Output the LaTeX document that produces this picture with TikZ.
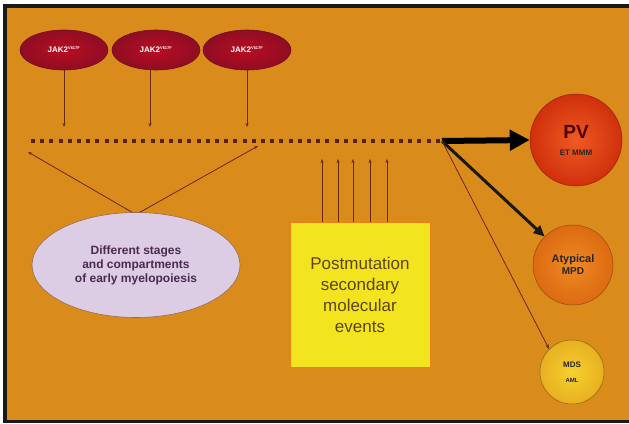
\documentclass[tikz,border=0pt]{standalone}
\usepackage{fontspec}
\setmainfont{Liberation Sans}
\usetikzlibrary{arrows.meta,shapes.geometric}
\definecolor{bgorange}{HTML}{D98B1C}
\definecolor{brownline}{HTML}{6A2A10}
\definecolor{jakred}{HTML}{A8102A}
\definecolor{lav}{HTML}{DCCCE4}
\definecolor{lavtext}{HTML}{4A2A50}
\definecolor{boxyellow}{HTML}{F2E41E}
\definecolor{boxtext}{HTML}{5E4418}
\definecolor{pvin}{HTML}{EE5A22}
\definecolor{pvout}{HTML}{D0300C}
\definecolor{atin}{HTML}{EE8A22}
\definecolor{atout}{HTML}{DC6A12}
\definecolor{mdin}{HTML}{F6D030}
\definecolor{mdout}{HTML}{E8B020}
\begin{document}
\begin{tikzpicture}[x=1pt,y=-1pt,
  jak/.style={ellipse,minimum width=88pt,minimum height=40pt,inner sep=0pt,
    shading=radial,inner color=jakred!80!red,outer color=jakred!85!black,
    draw=jakred!70!black,line width=0.6pt,text=white,font=\fontsize{8}{9}\selectfont\bfseries},
  thinarrow/.style={draw=brownline,line width=0.8pt,-{Stealth[length=4pt,width=3pt]}},
  sphere/.style={circle,inner sep=0pt,align=center,font=\bfseries,text=black!85,line width=0.5pt},
]
\useasboundingbox (0,0) rectangle (629,423);
\fill[white] (0,0) rectangle (629,423);
\fill[black!90] (3,4) rectangle (629,423);
\fill[bgorange] (7,8) rectangle (629,420);

% JAK2 ellipses
\node[jak] (jak1) at (64,50) {JAK2\textsuperscript{\fontsize{4}{4}\selectfont V617F}};
\node[jak] (jak2) at (156,50) {JAK2\textsuperscript{\fontsize{4}{4}\selectfont V617F}};
\node[jak] (jak3) at (247,50) {JAK2\textsuperscript{\fontsize{4}{4}\selectfont V617F}};

% dotted line
\coordinate (dl) at (31,141);
\coordinate (dr) at (442,141);
\draw[brownline!80!black,line width=4pt,dash pattern=on 4pt off 5.2pt] (dl) -- (dr);

\coordinate (t1) at (64,127);
\coordinate (t2) at (150,127);
\coordinate (t3) at (247,127);
\draw[thinarrow] (jak1.south) -- (t1);
\draw[thinarrow] (150,70) -- (t2);
\draw[thinarrow] (jak3.south) -- (t3);

% outcome spheres
\node[sphere,minimum size=92pt,shading=radial,inner color=pvin,outer color=pvout,
  draw=pvout!70!black] (pv) at (576,140)
  {{\fontsize{19}{20}\selectfont\color{red!30!black}PV}\\[5pt]{\fontsize{8}{9}\selectfont ET MMM}};
\node[sphere,minimum size=80pt,shading=radial,inner color=atin,outer color=atout,
  draw=atout!70!black] (atyp) at (573,265)
  {\fontsize{11}{13}\selectfont Atypical\\MPD};
\node[sphere,minimum size=64pt,shading=radial,inner color=mdin,outer color=mdout,
  draw=mdout!60!black] (mds) at (572,372)
  {{\fontsize{8}{9}\selectfont MDS}\\[3pt]{\fontsize{6}{7}\selectfont AML}};

\draw[black,line width=6pt,-{Triangle[length=20pt,width=20pt]}] (dr) -- (pv.west);
\draw[black!90,line width=3pt,-{Triangle[length=11pt,width=10pt]}] (dr) -- (atyp.north west);
\draw[brownline,line width=0.8pt,-{Stealth[length=5pt,width=3.5pt]}] (dr) -- (mds.north west);

% early myelopoiesis ellipse
\node[ellipse,minimum width=208pt,minimum height=105pt,inner sep=0pt,fill=lav,
  draw=brownline!70,line width=0.6pt,align=center,text=lavtext,
  font=\fontsize{12}{14}\selectfont\bfseries] (stages) at (136,265)
  {Different stages\\and compartments\\of early myelopoiesis};
\coordinate (el) at (28,152);
\coordinate (er) at (258,146);
\draw[thinarrow] (stages.north) ++(-4,0) -- (el);
\draw[thinarrow] (stages.north) ++(4,0) -- (er);

% postmutation box
\node[draw=orange!70!brown,line width=0.8pt,fill=boxyellow,minimum width=140pt,minimum height=145pt,
  align=center,text=boxtext,font=\fontsize{17}{21}\selectfont] (post) at (360,294.5)
  {Postmutation\\secondary\\molecular\\events};
\foreach \x/\n in {322/a,338/b,353/c,370/d,387/e}{
  \coordinate (u\n) at (\x,159);
  \draw[thinarrow] (post.north -| u\n) -- (u\n);
}
\end{tikzpicture}
\end{document}
